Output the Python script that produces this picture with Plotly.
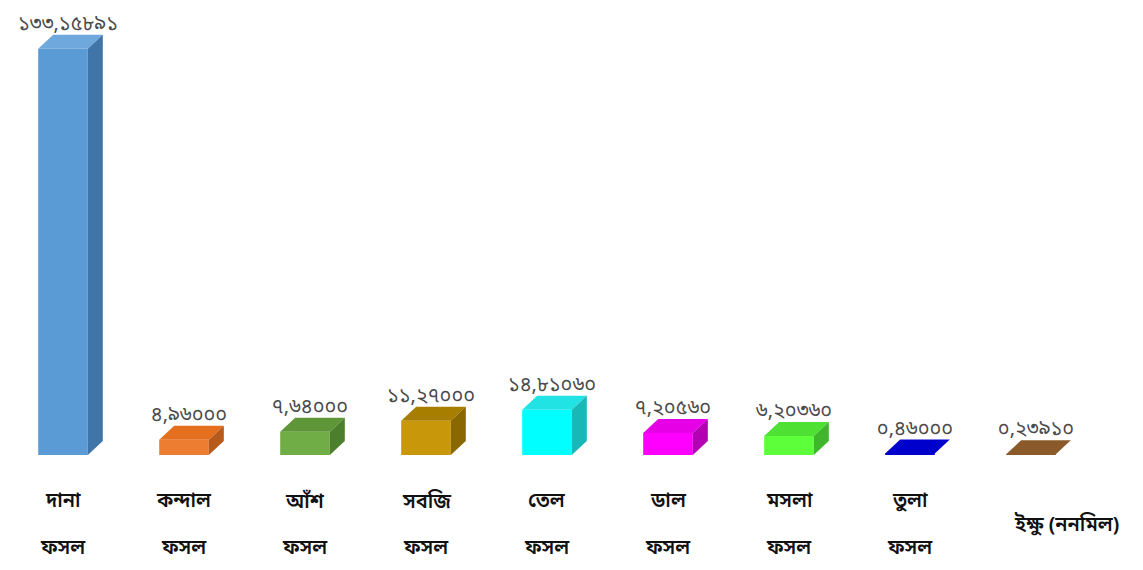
import plotly.graph_objects as go

# Data
categories = ['দানা<br>ফসল', 'কন্দাল<br>ফসল', 'আঁশ<br>ফসল', 'সবজি<br>ফসল', 'তেল<br>ফসল',
              'ডাল<br>ফসল', 'মসলা<br>ফসল', 'তুলা<br>ফসল', 'ইক্ষু (ননমিল)']
values = [133.15891, 4.96000, 7.64000, 11.27000, 14.81060, 7.20560, 6.20360, 0.46000, 0.23910]
value_labels = ['১৩৩,১৫৮৯১', '৪,৯৬০০০', '৭,৬৪০০০', '১১,২৭০০০', '১৪,৮১০৬০',
                '৭,২০৫৬০', '৬,২০৩৬০', '০,৪৬০০০', '০,২৩৯১০']

# front / top / side colours per bar
front = ['#5B9BD5', '#ED7D31', '#70AD47', '#C9970A', '#00FFFF', '#FF00FF', '#5CFF3A', '#0000CC', '#8B5A2B']
top = ['#6FA8DC', '#E46F1E', '#5E9638', '#A87E00', '#22E3E3', '#E600E6', '#4EE032', '#0000CC', '#8B5A2B']
side = ['#3F75A8', '#B85A1C', '#4C7F2C', '#8A6800', '#19B8B8', '#B300B3', '#3EB82A', '#000099', '#6B431F']

BENGALI = "Noto Sans Bengali, Noto Serif Bengali, Lohit Bengali, Noto Sans, sans-serif"

# page body has an 8px margin, so the figure is a bit smaller than the window
W, H = 1135, 562
PX_X = 121.0          # pixels per category
X0_PX = 55.0          # pixel of first category centre
BASE_PX = 447.0       # pixel of zero line
SCALE = 3.05          # pixels per unit of value

x_range = [-X0_PX / PX_X, (W - X0_PX) / PX_X]
y_range = [-(H - BASE_PX) / SCALE, BASE_PX / SCALE]

bw = 0.41             # bar width (category units)
dx = 15 / PX_X        # depth offset in x
dy = 14 / SCALE       # depth offset in y

xs = list(range(len(values)))

fig = go.Figure()

# front faces
fig.add_trace(go.Bar(
    x=xs, y=values, width=bw,
    marker=dict(color=front, line=dict(width=0)),
    hoverinfo='skip', showlegend=False
))

# top and side faces
for i, v in enumerate(values):
    l, r = i - bw / 2, i + bw / 2
    fig.add_trace(go.Scatter(
        x=[l, r, r + dx, l + dx, l], y=[v, v, v + dy, v + dy, v],
        fill='toself', fillcolor=top[i], mode='lines', line=dict(width=0, color=top[i]),
        hoverinfo='skip', showlegend=False
    ))
    if v * SCALE > 2:
        fig.add_trace(go.Scatter(
            x=[r, r + dx, r + dx, r, r], y=[0, dy, v + dy, v, 0],
            fill='toself', fillcolor=side[i], mode='lines', line=dict(width=0, color=side[i]),
            hoverinfo='skip', showlegend=False
        ))

# value labels
fig.add_trace(go.Scatter(
    x=[x + dx / 3 for x in xs], y=[v + dy for v in values],
    mode='text', text=value_labels, textposition='top center',
    textfont=dict(family=BENGALI, size=20, color='#4a4a4a'),
    cliponaxis=False,
    hoverinfo='skip', showlegend=False
))

# category labels
for i, c in enumerate(categories):
    parts = c.split('<br>')
    if len(parts) == 2:
        for j, p in enumerate(parts):
            fig.add_annotation(x=i, y=0, text=p, showarrow=False, yshift=-47 - 47 * j,
                               font=dict(family=BENGALI, size=20, color='#111111', weight=600))
    else:
        fig.add_annotation(x=i, y=0, text=parts[0], showarrow=False, yshift=-70, xshift=35,
                           font=dict(family=BENGALI, size=20, color='#111111', weight=600))

fig.update_layout(
    width=W, height=H,
    margin=dict(l=0, r=0, t=0, b=0),
    paper_bgcolor='white', plot_bgcolor='white',
    xaxis=dict(range=x_range, visible=False, fixedrange=True),
    yaxis=dict(range=y_range, visible=False, fixedrange=True),
)

fig.write_html("out.html")
